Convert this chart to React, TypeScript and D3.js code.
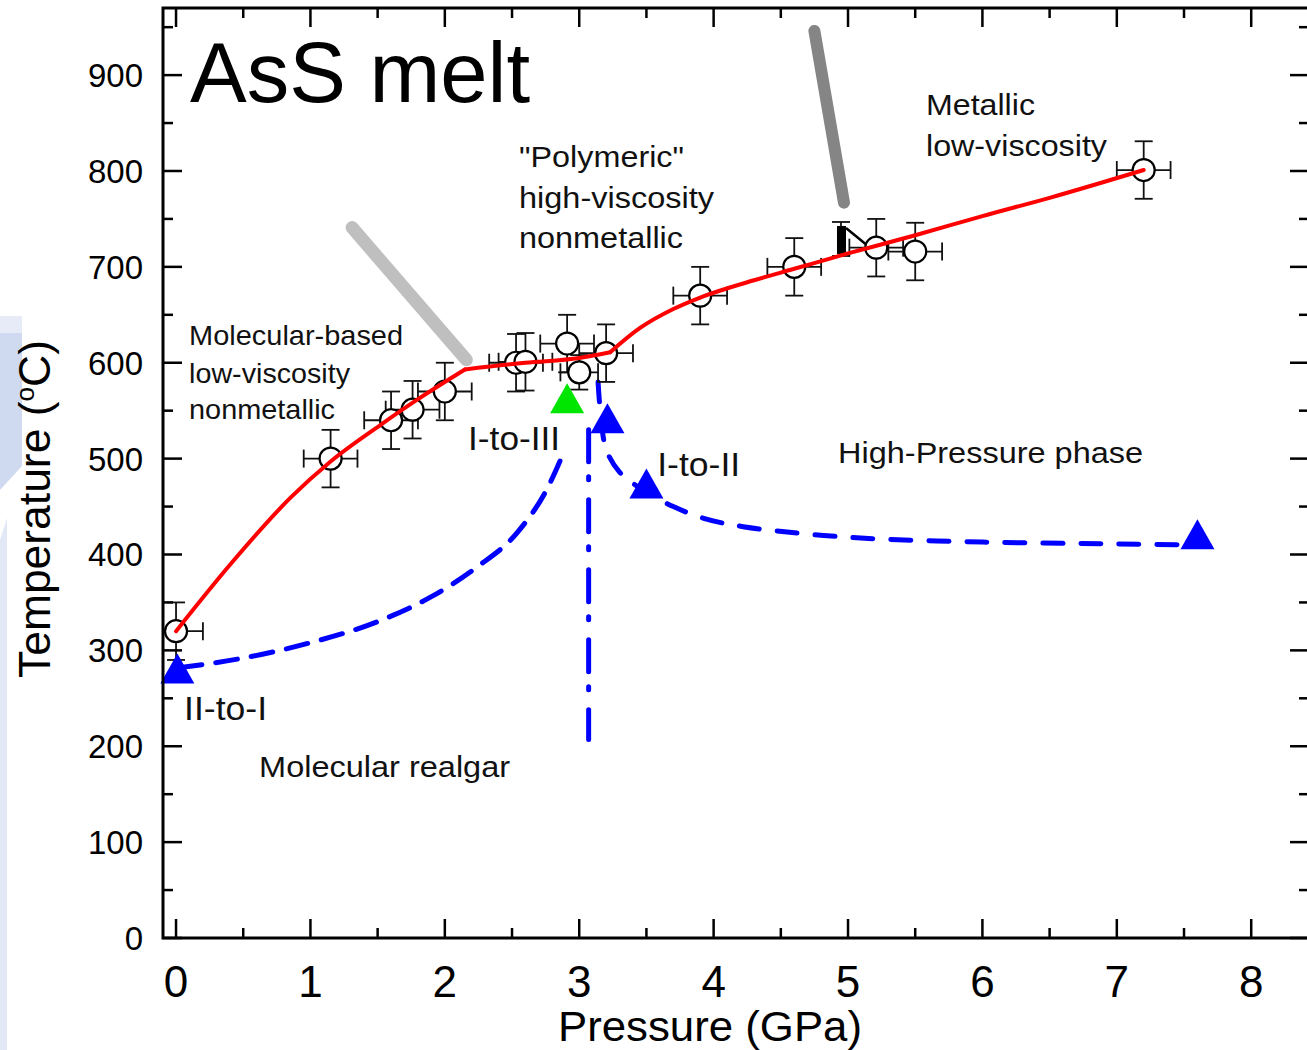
import React from 'react';
import * as d3 from 'd3';

// melt temperature measurements (open circles)
const PRESSURE = [0, 1.15, 1.6, 1.76, 2.0, 2.53, 2.6, 2.91, 3.0, 3.2, 3.9, 4.6, 5.21, 5.5, 7.2];
const TEMP = [320, 500, 540, 551, 570, 600, 601, 620, 590, 610, 670, 700, 720, 716, 801];
const P_ERR = [0.2, 0.2, 0.2, 0.2, 0.2, 0.2, 0.2, 0.2, 0.14, 0.2, 0.2, 0.2, 0.2, 0.2, 0.2];
const T_ERR = [30, 30, 30, 30, 30, 30, 30, 30, 18, 30, 30, 30, 30, 30, 30];

// half filled marker near 5 GPa
const HALF_P = [4.97];
const HALF_T = [727];

// melting curve (red), two kinks at ~2.15 and ~3.23 GPa
const MELT_A_P = [0, 0.4, 0.85, 1.15, 1.52, 1.8, 2.15];
const MELT_A_T = [320, 389, 459, 497, 535, 562, 593];
const MELT_B_P = [2.15, 2.6, 3.0, 3.23];
const MELT_B_T = [593, 600, 605, 611];
const MELT_C_P = [3.23, 3.45, 3.7, 3.9, 4.3, 4.6, 5.0, 5.5, 6.0, 6.5, 7.2];
const MELT_C_T = [611, 636, 656, 668, 686, 698, 714, 733, 753, 772, 801];

// phase boundaries (blue)
const II_I_P = [0.03, 0.5, 1.0, 1.5, 1.9, 2.24, 2.54, 2.77, 2.88];
const II_I_T = [282, 292, 308, 330, 356, 387, 423, 471, 505];
const I_II_P = [3.14, 3.16, 3.2, 3.3, 3.5, 3.7, 3.92, 4.22, 5.0, 6.0, 7.0, 7.6];
const I_II_T = [580, 545, 510, 486, 465, 450, 438, 429, 418, 413, 411, 410];
const VERT_P = [3.07, 3.07];
const VERT_T = [530, 207];

// transition triangles
const BLUE_TRI_P = [0.01, 3.21, 3.5, 7.6];
const BLUE_TRI_T = [280, 541, 473, 420];
const GREEN_TRI_P = [2.91];
const GREEN_TRI_T = [562];

// grey guide strokes
const LIGHT_GREY_P = [1.31, 2.16];
const LIGHT_GREY_T = [741, 603];
const DARK_GREY_P = [4.75, 4.97];
const DARK_GREY_T = [946, 767];

const X_TICKS = [0, 1, 2, 3, 4, 5, 6, 7, 8];
const Y_TICKS = [0, 100, 200, 300, 400, 500, 600, 700, 800, 900];

// annotations: text, pressure, temperature (baseline), font size, width
const NOTE_TEXT = ['Molecular-based', 'low-viscosity', 'nonmetallic', '"Polymeric"', 'high-viscosity', 'nonmetallic',
  'Metallic', 'low-viscosity', 'I-to-III', 'I-to-II', 'II-to-I', 'High-Pressure phase', 'Molecular realgar'];
const NOTE_P = [0.097, 0.097, 0.097, 2.552, 2.552, 2.552, 5.58, 5.58, 2.173, 3.58, 0.06, 4.926, 0.618];
const NOTE_T = [618, 579, 541, 804, 761, 720, 858, 816, 509, 482, 227, 495, 168];
const NOTE_SIZE = [28, 28, 28, 30, 30, 30, 30, 30, 33, 33, 33, 30, 30];
const NOTE_W = [214, 161, 146, 165, 195, 164, 109, 181, 92, 83, 83, 305, 251];

const FONT = '"Liberation Sans", Arial, Helvetica, sans-serif';

export default function App() {
  const W = 1307, H = 1050;
  const x = d3.scaleLinear().domain([-0.097, 8.43]).range([163, 1309]);
  const y = d3.scaleLinear().domain([0, 970]).range([938, 8]);

  const zip = (a: number[], b: number[]) => a.map((v, i) => [v, b[i]] as [number, number]);
  const mk = (curve: d3.CurveFactory) =>
    d3.line<[number, number]>().x(d => x(d[0])).y(d => y(d[1])).curve(curve);
  const straight = mk(d3.curveLinear);
  const smooth = mk(d3.curveMonotoneX);
  const catmull = mk(d3.curveCatmullRom);

  const tri = (p: number, t: number) => {
    const cx = x(p), cy = y(t);
    return `M${cx},${cy - 16}L${cx + 17},${cy + 14}L${cx - 17},${cy + 14}Z`;
  };

  const xMinor = d3.range(0, 8.51, 0.5);
  const yMinor = d3.range(0, 951, 50);
  const x0 = x.range()[0], x1 = x.range()[1];
  const y0 = y.range()[0], y1 = y.range()[1];

  const melt = [zip(MELT_A_P, MELT_A_T), zip(MELT_B_P, MELT_B_T), zip(MELT_C_P, MELT_C_T)];

  return (
    <svg width={W} height={H} style={{ position: 'absolute', left: 0, top: 0 }} fontFamily={FONT}>
      <rect width={W} height={H} fill="#fff" />
      {/* faint scan residue on the left edge */}
      <path d="M0,316H22V333H0Z" fill="#e6ebf7" />
      <path d="M0,333H22V466L0,490Z" fill="#cfd9ef" />
      <path d="M0,540L7,518V1050H0Z" fill="#e2e8f5" />

      <defs>
        <clipPath id="plot">
          <rect x={x0} y={y1} width={x1 - x0} height={y0 - y1} />
        </clipPath>
      </defs>

      {/* grey guides */}
      <path d={straight(zip(LIGHT_GREY_P, LIGHT_GREY_T)) || ''} stroke="#bfbfbf" strokeWidth={13} strokeLinecap="round" fill="none" />
      <path d={straight(zip(DARK_GREY_P, DARK_GREY_T)) || ''} stroke="#858585" strokeWidth={12} strokeLinecap="round" fill="none" />

      {/* blue phase boundaries */}
      <path d={smooth(zip(II_I_P, II_I_T)) || ''} stroke="#0000ff" strokeWidth={5}
        strokeDasharray="22 14" strokeLinecap="round" fill="none" />
      <path d={catmull(zip(I_II_P, I_II_T)) || ''}
        stroke="#0000ff" strokeWidth={5} strokeDasharray="20 18" strokeLinecap="round" fill="none" />
      <path d={straight(zip(VERT_P, VERT_T)) || ''}
        stroke="#0000ff" strokeWidth={5} strokeDasharray="32 15 3 20" strokeLinecap="round" fill="none" />

      {/* error bars and points */}
      <g clipPath="url(#plot)" stroke="#111" strokeWidth={1.8} fill="none">
        {PRESSURE.map((p, i) => {
          const cx = x(p), cy = y(TEMP[i]);
          const xl = x(p - P_ERR[i]), xr = x(p + P_ERR[i]);
          const yt = y(TEMP[i] + T_ERR[i]), yb = y(TEMP[i] - T_ERR[i]);
          return (
            <g key={'err' + i}>
              <line x1={xl} x2={xr} y1={cy} y2={cy} />
              <line x1={cx} x2={cx} y1={yt} y2={yb} />
              <line x1={xl} x2={xl} y1={cy - 9} y2={cy + 9} />
              <line x1={xr} x2={xr} y1={cy - 9} y2={cy + 9} />
              <line x1={cx - 9} x2={cx + 9} y1={yt} y2={yt} />
              <line x1={cx - 9} x2={cx + 9} y1={yb} y2={yb} />
            </g>
          );
        })}
        {HALF_P.map((p, i) => {
          const cx = x(p), cy = y(HALF_T[i]);
          return (
            <g key={'half' + i}>
              <line x1={cx - 3} x2={cx - 3} y1={cy - 19} y2={cy + 15} />
              <line x1={cx - 12} x2={cx + 6} y1={cy + 15} y2={cy + 15} />
              <line x1={cx - 12} x2={cx + 6} y1={cy - 19} y2={cy - 19} />
              <rect x={cx - 7} y={cy - 15} width={9} height={28} fill="#000" stroke="none" />
              <line x1={cx + 2} y1={cy - 13} x2={cx + 24} y2={cy + 5} strokeWidth={2.5} stroke="#000" />
            </g>
          );
        })}
        {PRESSURE.map((p, i) => (
          <circle key={'pt' + i} cx={x(p)} cy={y(TEMP[i])} r={11} fill="#fff" stroke="#000" strokeWidth={2.2} />
        ))}
      </g>

      {/* melting curve */}
      {melt.map((seg, i) => (
        <path key={'melt' + i} d={smooth(seg) || ''} stroke="#ff0000" strokeWidth={4} fill="none"
          strokeLinejoin="round" strokeLinecap="round" />
      ))}

      {/* triangles */}
      {BLUE_TRI_P.map((p, i) => <path key={'bt' + i} d={tri(p, BLUE_TRI_T[i])} fill="#0000ff" />)}
      {GREEN_TRI_P.map((p, i) => <path key={'gt' + i} d={tri(p, GREEN_TRI_T[i])} fill="#00e600" />)}

      {/* frame */}
      <rect x={x0} y={y1} width={x1 - x0} height={y0 - y1} fill="none" stroke="#000" strokeWidth={3} />
      <g stroke="#000" strokeWidth={2.5}>
        {xMinor.map(p => {
          const major = Math.abs(p - Math.round(p)) < 1e-6;
          const len = major ? 19 : 10;
          return (
            <g key={'xt' + p}>
              <line x1={x(p)} x2={x(p)} y1={y0} y2={y0 - len} />
              <line x1={x(p)} x2={x(p)} y1={y1} y2={y1 + len} />
            </g>
          );
        })}
        {yMinor.map(t => {
          const len = t % 100 === 0 ? 19 : 10;
          return (
            <g key={'yt' + t}>
              <line x1={x0} x2={x0 + len} y1={y(t)} y2={y(t)} />
              <line x1={x1} x2={x1 - len} y1={y(t)} y2={y(t)} />
            </g>
          );
        })}
      </g>

      {X_TICKS.map(p => (
        <text key={'xl' + p} x={x(p)} y={997} fontSize={44} textAnchor="middle" fill="#000">{p}</text>
      ))}
      {Y_TICKS.map(t => (
        <text key={'yl' + t} x={143} y={y(t) + 12} fontSize={33} textAnchor="end" fill="#000">{t}</text>
      ))}

      <text x={558} y={1041} fontSize={42} textLength={304} lengthAdjust="spacingAndGlyphs" fill="#000">Pressure (GPa)</text>
      <text transform="translate(50,509) rotate(-90)" fontSize={44} textAnchor="middle" textLength={338}
        lengthAdjust="spacingAndGlyphs" fill="#000">
        Temperature (<tspan dy={-16} fontSize={26}>o</tspan><tspan dy={16}>C)</tspan>
      </text>

      <text x={x(0.104)} y={y(872)} fontSize={85} fill="#000">AsS melt</text>
      {NOTE_TEXT.map((s, i) => (
        <text key={'n' + i} x={x(NOTE_P[i])} y={y(NOTE_T[i])} fontSize={NOTE_SIZE[i]} textLength={NOTE_W[i]}
          lengthAdjust="spacingAndGlyphs" fill="#111">{s}</text>
      ))}
    </svg>
  );
}
